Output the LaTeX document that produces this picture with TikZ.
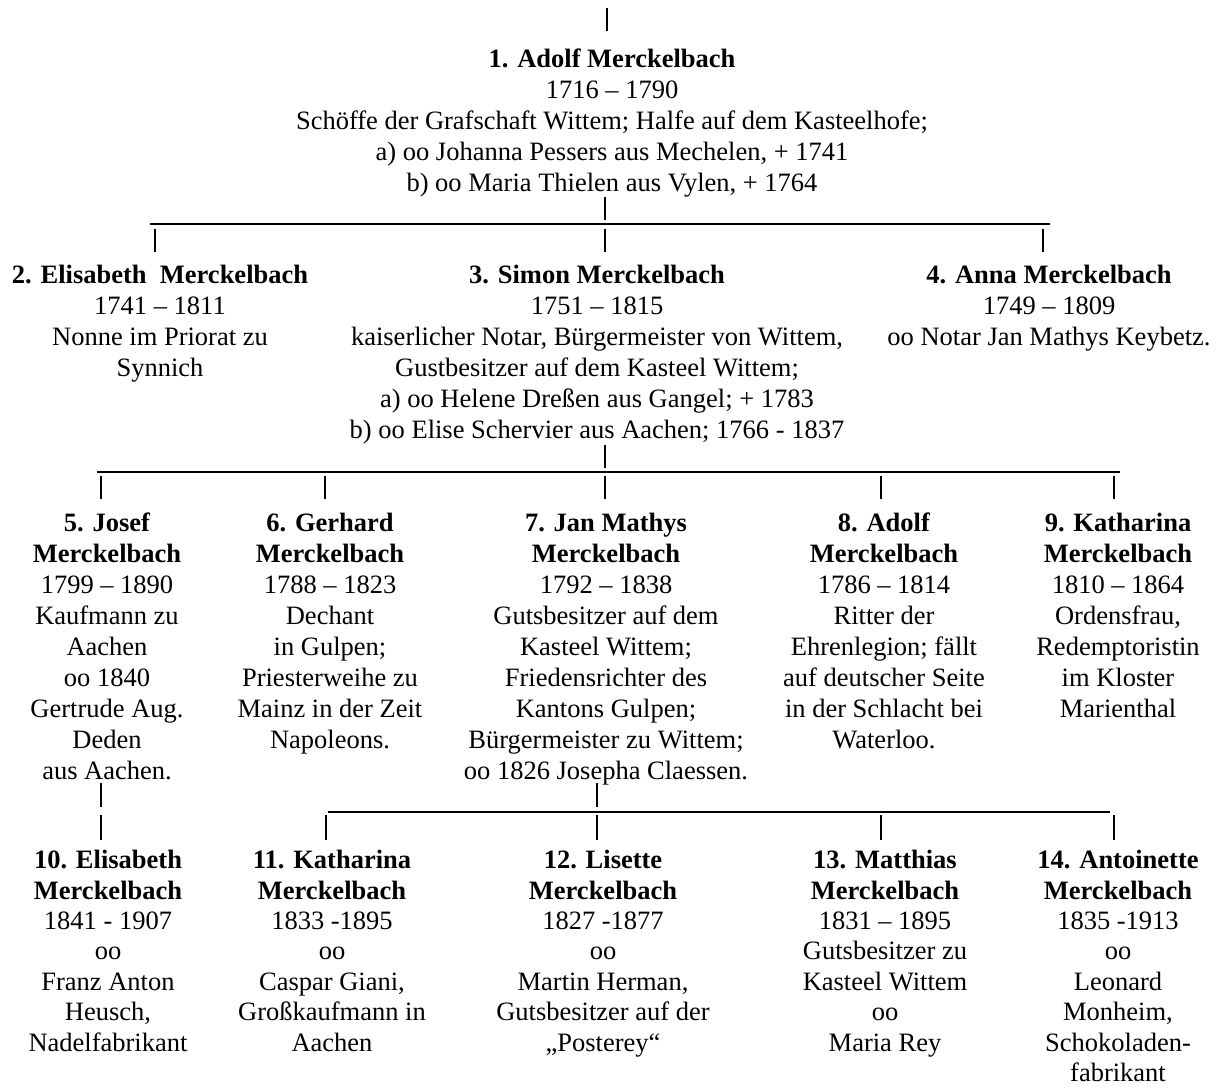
\documentclass[tikz,border=0pt]{standalone}
\usepackage{fontspec}
\setmainfont{Liberation Serif}
\usetikzlibrary{positioning, calc}

\begin{document}
\begin{tikzpicture}[
    x=1pt, y=-1pt,
    person/.style={anchor=north, align=center, inner sep=0pt,
        font=\fontsize{26.5}{31}\selectfont, execute at begin node=\strut},
    lastrow/.style={person, font=\fontsize{26.5}{30.4}\selectfont},
    tick/.style={line width=2.8pt},
    bus/.style={line width=1.3pt}
]
    \useasboundingbox (0,0) rectangle (1221,1088);

    % first generation
    \node[person] (p1) at (612,49) {\textbf{1. Adolf Merckelbach}\\1716 – 1790\\Schöffe der Grafschaft Wittem; Halfe auf dem Kasteelhofe;\\a) oo Johanna Pessers aus Mechelen, + 1741\\b) oo Maria Thielen aus Vylen, + 1764};

    % second generation
    \node[person] (p2) at (160,265) {\textbf{2. Elisabeth\ \ Merckelbach}\\1741 – 1811\\Nonne im Priorat zu\\Synnich};
    \node[person] (p3) at (597,265) {\textbf{3. Simon Merckelbach}\\1751 – 1815\\kaiserlicher Notar, Bürgermeister von Wittem,\\Gustbesitzer auf dem Kasteel Wittem;\\a) oo Helene Dreßen aus Gangel; + 1783\\b) oo Elise Schervier aus Aachen; 1766 - 1837};
    \node[person] (p4) at (1049,265) {\textbf{4. Anna Merckelbach}\\1749 – 1809\\oo Notar Jan Mathys Keybetz.};

    % third generation
    \node[person] (p5) at (107,513) {\textbf{5. Josef}\\\textbf{Merckelbach}\\1799 – 1890\\Kaufmann zu\\Aachen\\oo 1840\\Gertrude Aug.\\Deden\\aus Aachen.};
    \node[person] (p6) at (330,513) {\textbf{6. Gerhard}\\\textbf{Merckelbach}\\1788 – 1823\\Dechant\\in Gulpen;\\Priesterweihe zu\\Mainz in der Zeit\\Napoleons.};
    \node[person] (p7) at (606,513) {\textbf{7. Jan Mathys}\\\textbf{Merckelbach}\\1792 – 1838\\Gutsbesitzer auf dem\\Kasteel Wittem;\\Friedensrichter des\\Kantons Gulpen;\\Bürgermeister zu Wittem;\\oo 1826 Josepha Claessen.};
    \node[person] (p8) at (884,513) {\textbf{8. Adolf}\\\textbf{Merckelbach}\\1786 – 1814\\Ritter der\\Ehrenlegion; fällt\\auf deutscher Seite\\in der Schlacht bei\\Waterloo.};
    \node[person] (p9) at (1118,513) {\textbf{9. Katharina}\\\textbf{Merckelbach}\\1810 – 1864\\Ordensfrau,\\Redemptoristin\\im Kloster\\Marienthal};

    % fourth generation
    \node[lastrow] (p10) at (108,850) {\textbf{10. Elisabeth}\\\textbf{Merckelbach}\\1841 - 1907\\oo\\Franz Anton\\Heusch,\\Nadelfabrikant};
    \node[lastrow] (p11) at (332,850) {\textbf{11. Katharina}\\\textbf{Merckelbach}\\1833 -1895\\oo\\Caspar Giani,\\Großkaufmann in\\Aachen};
    \node[lastrow] (p12) at (603,850) {\textbf{12. Lisette}\\\textbf{Merckelbach}\\1827 -1877\\oo\\Martin Herman,\\Gutsbesitzer auf der\\„Posterey“};
    \node[lastrow] (p13) at (885,850) {\textbf{13. Matthias}\\\textbf{Merckelbach}\\1831 – 1895\\Gutsbesitzer zu\\Kasteel Wittem\\oo\\Maria Rey};
    \node[lastrow] (p14) at (1118,850) {\textbf{14. Antoinette}\\\textbf{Merckelbach}\\1835 -1913\\oo\\Leonard\\Monheim,\\Schokoladen-\\fabrikant};

    % family lines
    \coordinate (b1w) at (150,224);
    \coordinate (b1e) at (1050,224);
    \coordinate (b2w) at (97,472);
    \coordinate (b2e) at (1120,472);
    \coordinate (b3w) at (328,812);
    \coordinate (b3e) at (1110,812);
    \draw[bus] (b1w) -- (b1e);
    \draw[bus] (b2w) -- (b2e);
    \draw[bus] (b3w) -- (b3e);

    \draw[tick] (607,8) -- ++(0,23);
    \draw[tick] (605,197) -- ++(0,23);
    \foreach \x in {155,605,1043}
        \draw[tick] (\x,229) -- ++(0,23);
    \draw[tick] (605,445) -- ++(0,23);
    \foreach \x in {101,325,605,881,1114}
        \draw[tick] (\x,476) -- ++(0,23);
    \draw[tick] (101,783) -- ++(0,24);
    \draw[tick] (597,783) -- ++(0,24);
    \foreach \x in {101,326,597,881,1114}
        \draw[tick] (\x,815) -- ++(0,25);
\end{tikzpicture}
\end{document}
